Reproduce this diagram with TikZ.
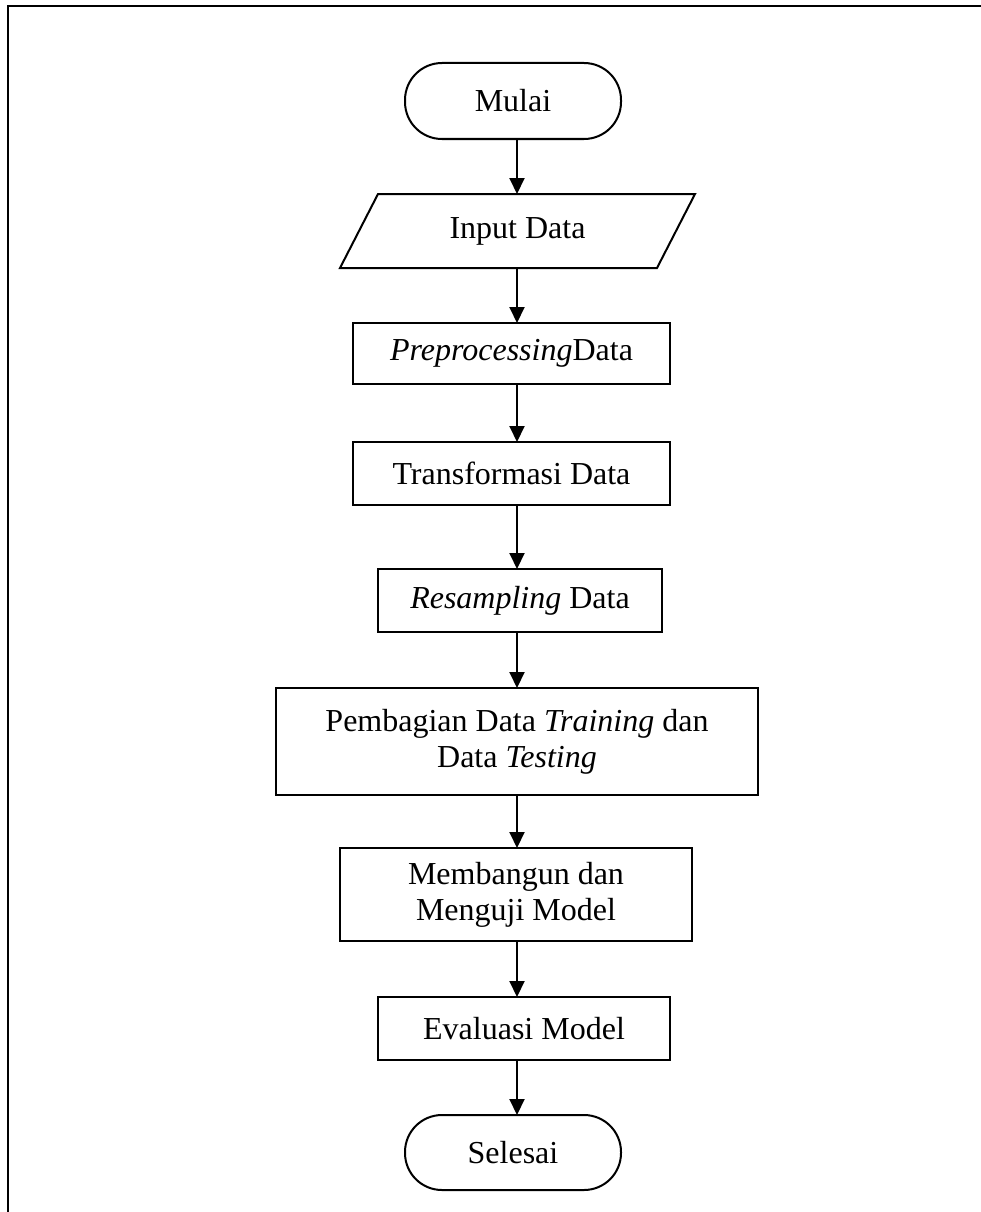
\documentclass[tikz,border=0pt]{standalone}
\usepackage{fontspec}
\setmainfont{Liberation Serif}
\usetikzlibrary{arrows.meta}
\begin{document}
\begin{tikzpicture}[x=1pt,y=-1pt, line width=2pt,
  txt/.style={inner sep=0pt, outer sep=0pt, align=center, font=\fontsize{32}{36}\selectfont},
  box/.style={txt, draw, rectangle},
  term/.style={box, rounded corners=37pt},
  flow/.style={-{Triangle[length=16pt,width=15pt]}}]
\useasboundingbox (0,0) rectangle (981,1212);
\draw (8,1212) -- (8,6) -- (981,6);
\coordinate (ax) at (517,0);

\node[term, minimum width=216pt, minimum height=76pt] (mulai) at (513,101) {Mulai};
\node[txt, minimum width=355pt, minimum height=74pt] (inp) at (517.5,231) {Input Data};
\draw ([xshift=38pt]inp.north west) -- (inp.north east) -- ([xshift=-38pt]inp.south east) -- (inp.south west) -- cycle;
\node[box, minimum width=317pt, minimum height=61pt] (pre) at (511.5,353.5) {\textit{Preprocessing}Data};
\node[box, minimum width=317pt, minimum height=63pt] (tra) at (511.5,473.5) {Transformasi Data};
\node[box, minimum width=284pt, minimum height=63pt] (res) at (520,600.5) {\textit{Resampling} Data};
\node[box, minimum width=482pt, minimum height=107pt] (pem) at (517,741.5) {Pembagian Data \textit{Training} dan\\Data \textit{Testing}};
\node[box, minimum width=352pt, minimum height=93pt] (mem) at (516,894.5) {Membangun dan\\Menguji Model};
\node[box, minimum width=292pt, minimum height=63pt] (eva) at (524,1028.5) {Evaluasi Model};
\node[term, minimum width=216pt, minimum height=75pt] (sel) at (513,1152.5) {Selesai};

\draw[flow] (mulai.south -| ax) -- (inp.north -| ax);
\draw[flow] (inp.south -| ax) -- (pre.north -| ax);
\draw[flow] (pre.south -| ax) -- (tra.north -| ax);
\draw[flow] (tra.south -| ax) -- (res.north -| ax);
\draw[flow] (res.south -| ax) -- (pem.north -| ax);
\draw[flow] (pem.south -| ax) -- (mem.north -| ax);
\draw[flow] (mem.south -| ax) -- (eva.north -| ax);
\draw[flow] (eva.south -| ax) -- (sel.north -| ax);
\end{tikzpicture}
\end{document}
